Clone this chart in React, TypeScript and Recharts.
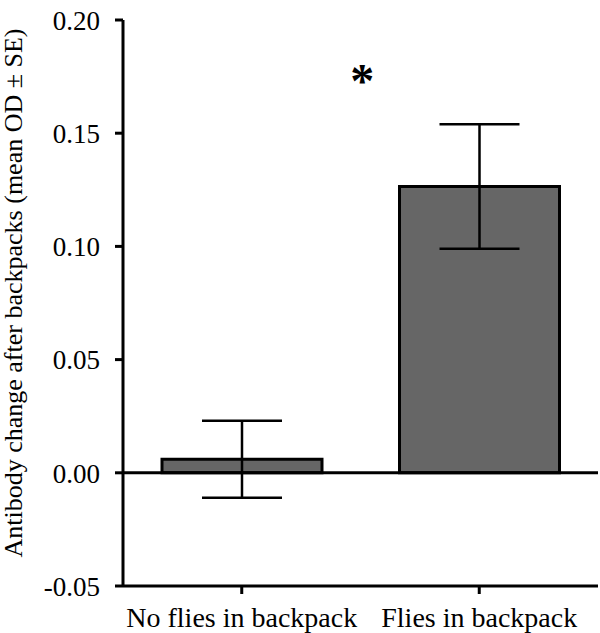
import { BarChart, Bar, XAxis, YAxis, ErrorBar, ReferenceLine, ReferenceDot, Label } from 'recharts';

const categories = ['No flies in backpack', 'Flies in backpack'];
const means = [0.006, 0.1265];
const stdErrors = [0.017, 0.0275];
const yTicks = [-0.05, 0, 0.05, 0.1, 0.15, 0.2];
const yTitle = 'Antibody change after backpacks (mean OD ± SE)';
const sigCategory = 'Flies in backpack';
const sigLevel = 0.175;
const sigMark = '*';

const data = categories.map((name, i) => ({ name, mean: means[i], se: stdErrors[i] }));

const FONT = "Liberation Serif";

const YTick = ({ x, y, payload }: any) => (
  <text x={x} y={y} dy="0.36em" textAnchor="end" fontFamily={FONT} fontSize={27} fill="#000">
    {Number(payload.value).toFixed(2)}
  </text>
);

const XTick = ({ x, y, payload }: any) => (
  <text x={x} y={y} dy="0.7em" textAnchor="middle" fontFamily={FONT} fontSize={28} fill="#000">
    {payload.value}
  </text>
);

const YTitle = ({ viewBox }: any) => {
  const cx = 22;
  const cy = viewBox.y + viewBox.height / 2 - 10;
  return (
    <text x={cx} y={cy} transform={`rotate(-90, ${cx}, ${cy})`} textAnchor="middle" fontFamily={FONT} fontSize={26} fill="#000">
      {yTitle}
    </text>
  );
};

const SigMark = ({ viewBox }: any) => (
  <text x={viewBox.x - 117} y={viewBox.y + 20} textAnchor="middle" fontFamily={FONT} fontSize={48} fontWeight="bold" fill="#000">
    {sigMark}
  </text>
);

export default function App() {
  return (
    <div style={{ position: 'absolute', left: 0, top: 0, width: 600, height: 633, background: '#fff' }}>
      <BarChart width={600} height={633} data={data} margin={{ top: 20, right: 2, bottom: 0, left: 0 }} barCategoryGap={0}>
        <XAxis
          dataKey="name"
          height={47}
          interval={0}
          tickSize={8}
          tickMargin={13}
          axisLine={{ stroke: '#000', strokeWidth: 3 }}
          tickLine={{ stroke: '#000', strokeWidth: 3 }}
          tick={<XTick />}
        />
        <YAxis
          width={123}
          domain={[-0.05, 0.2]}
          ticks={yTicks}
          tickSize={8}
          tickMargin={15}
          axisLine={{ stroke: '#000', strokeWidth: 3 }}
          tickLine={{ stroke: '#000', strokeWidth: 3 }}
          tick={<YTick />}
        >
          <Label content={<YTitle />} />
        </YAxis>
        <Bar dataKey="mean" fill="#666666" stroke="#000" strokeWidth={3} barSize={160} isAnimationActive={false}>
          <ErrorBar dataKey="se" width={40} stroke="#000" strokeWidth={2.5} isAnimationActive={false} />
        </Bar>
        <ReferenceLine y={0} stroke="#000" strokeWidth={3} />
        <ReferenceDot x={sigCategory} y={sigLevel} r={0} fill="none" stroke="none">
          <Label content={<SigMark />} />
        </ReferenceDot>
      </BarChart>
    </div>
  );
}
